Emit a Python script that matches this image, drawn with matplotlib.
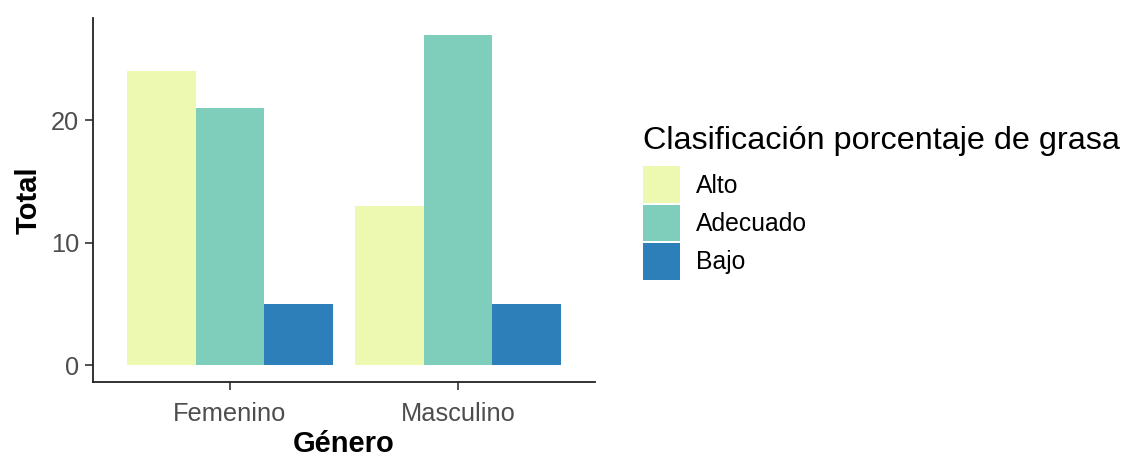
import matplotlib
matplotlib.use("Agg")
import matplotlib.pyplot as plt
import numpy as np

generos = ["Femenino", "Masculino"]
clasificaciones = ["Alto", "Adecuado", "Bajo"]
valores = {
    "Alto": [24, 13],
    "Adecuado": [21, 27],
    "Bajo": [5, 5],
}
colores = {"Alto": "#EDF8B1", "Adecuado": "#7FCDBB", "Bajo": "#2C7FB8"}
y_ticks = [0, 10, 20]

plt.rcParams['font.family'] = ['Liberation Sans', 'DejaVu Sans']

W, H = 1124, 457
fig = plt.figure(figsize=(W / 100, H / 100), dpi=100)
ax = fig.add_axes([93 / W, (H - 382) / H, 502 / W, 364 / H])

x = np.arange(1, len(generos) + 1)
bw = 0.3
handles = []
for i, c in enumerate(clasificaciones):
    b = ax.bar(x + (i - 1) * bw, valores[c], width=bw, color=colores[c],
               label=c, linewidth=0)
    handles.append(b)

ymax = max(max(v) for v in valores.values())
ax.set_xlim(0.4, 2.6)
ax.set_ylim(-0.05 * ymax, ymax * 1.05)
ax.set_xticks(x)
ax.set_xticklabels(generos)
ax.set_yticks(y_ticks)

for s in ["top", "right"]:
    ax.spines[s].set_visible(False)
for s in ["left", "bottom"]:
    ax.spines[s].set_linewidth(1.3)
    ax.spines[s].set_color("#222222")

ax.tick_params(axis="both", length=6, width=1.2, color="#333333",
               labelcolor="#4D4D4D", labelsize=18.3, pad=4)
ax.tick_params(axis="x", pad=8.5)

ax.set_xlabel("Género", fontsize=21, fontweight="bold", labelpad=3)
ax.set_ylabel("Total", fontsize=21, fontweight="bold", labelpad=6)

leg = fig.legend(handles=handles, labels=clasificaciones,
                 title="Clasificación porcentaje de grasa",
                 loc="upper left", bbox_to_anchor=(643 / W, 1 - 126 / H),
                 frameon=False, fontsize=17.8, title_fontsize=23.3,
                 handlelength=1.5, handleheight=1.92, labelspacing=0.05,
                 handletextpad=0.65, borderpad=0, borderaxespad=0,
                 alignment="left")
leg._legend_box.sep = 7.5

fig.savefig("out.png", dpi=100)
